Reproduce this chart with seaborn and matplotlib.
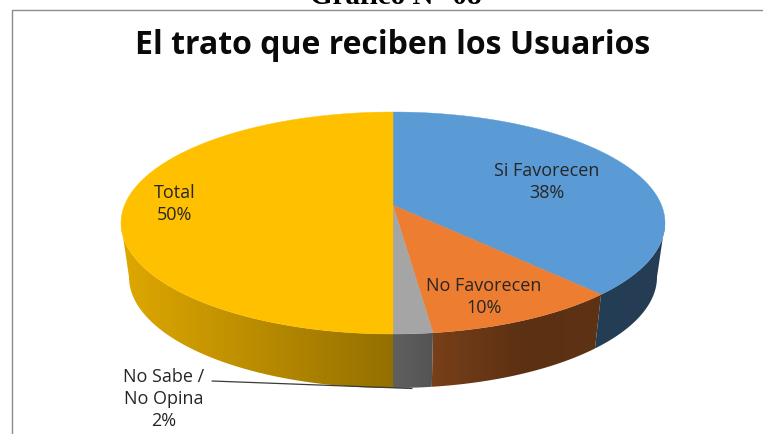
import numpy as np
import matplotlib
matplotlib.use("Agg")
import matplotlib.pyplot as plt
from matplotlib.patches import Polygon
import seaborn as sns

categories = ["Si Favorecen", "No Favorecen", "No Sabe /\nNo Opina", "Total"]
values = [38, 10, 2, 50]
colors = ["#5B9BD5", "#ED7D31", "#A5A5A5", "#FFC000"]
title = "El trato que reciben los Usuarios"
header = "Gráfico N° 08"

sns.set_theme(style="white")
W, H = 763, 434
fig = plt.figure(figsize=(W / 100, H / 100), dpi=100, facecolor="white")
ax = fig.add_axes([0, 0, 1, 1])
ax.axis("off")

CX, RX_TOP, RX_BOT = 393, 272, 264
CY_TOP, CY_BOT, RY = 223, 277, 111
P = 0.16


def project(theta, cy, rx):
    u, v = np.sin(theta), np.cos(theta)
    d = 1 + P * v
    X = u * np.sqrt(1 - P ** 2) / d
    Y = (v + P) / d
    return CX + rx * X, cy - RY * Y


def shade(x):
    return np.interp(x, [125, 393, 431, 520, 700], [0.87, 0.58, 0.51, 0.39, 0.40])


edges = np.concatenate([[0], np.cumsum(values)]) / np.sum(values) * 2 * np.pi
limit = np.arccos(-P)
for a, b, c in zip(edges[:-1], edges[1:], colors):
    lo, hi = max(a, limit), min(b, 2 * np.pi - limit)
    if hi <= lo:
        continue
    th = np.linspace(lo, hi, 300)
    xt, yt = project(th, CY_TOP, RX_TOP)
    xb, yb = project(th, CY_BOT, RX_BOT)
    poly = np.c_[np.r_[xt, xb[::-1]], np.r_[yt, yb[::-1]]]
    x_min, x_max = poly[:, 0].min(), poly[:, 0].max()
    xs = np.linspace(x_min, x_max, 256)
    base = np.array(matplotlib.colors.to_rgb(c))
    grad = (base[None, None, :] * shade(xs)[None, :, None])
    clip = Polygon(poly, closed=True, transform=ax.transData, fc="none", ec="none")
    ax.add_patch(clip)
    im = ax.imshow(grad, extent=(x_min, x_max, poly[:, 1].max(), poly[:, 1].min()),
                   aspect="auto", interpolation="bilinear", zorder=2)
    im.set_clip_path(clip)

for a, b, c in zip(edges[:-1], edges[1:], colors):
    th = np.linspace(a, b, 300)
    x, y = project(th, CY_TOP, RX_TOP)
    apex_y = CY_TOP - RY * P
    ax.fill(np.r_[CX, x], np.r_[apex_y, y], color=c, lw=0.3, zorder=3)

label_font = dict(family="Open Sans", fontsize=13, color="#262626", ha="center", va="center", linespacing=1.25, zorder=5)
ax.text(547, 182, f"{categories[0]}\n{values[0]}%", **label_font)
ax.text(484, 297, f"{categories[1]}\n{values[1]}%", **label_font)
ax.text(164, 399, f"{categories[2]}\n{values[2]}%", **label_font)
ax.text(175, 204, f"{categories[3]}\n{values[3]}%", **label_font)
ax.plot([212, 412], [381, 388.5], color="#3a3a3a", lw=0.9, zorder=4)

ax.text(393, 46, title, family="Open Sans", fontweight="bold", fontsize=23, color="#0a0a0a", ha="center", va="center")
ax.text(396, 4, header, family="Liberation Serif", fontweight="bold", fontsize=21, color="black", ha="center", va="baseline", clip_on=False)
ax.plot([W, 11.5, 11.5], [9.5, 9.5, H], color="#8c8c8c", lw=1)

ax.set_xlim(0, W)
ax.set_ylim(H, 0)
fig.savefig("out.png", dpi=100, facecolor="white")
